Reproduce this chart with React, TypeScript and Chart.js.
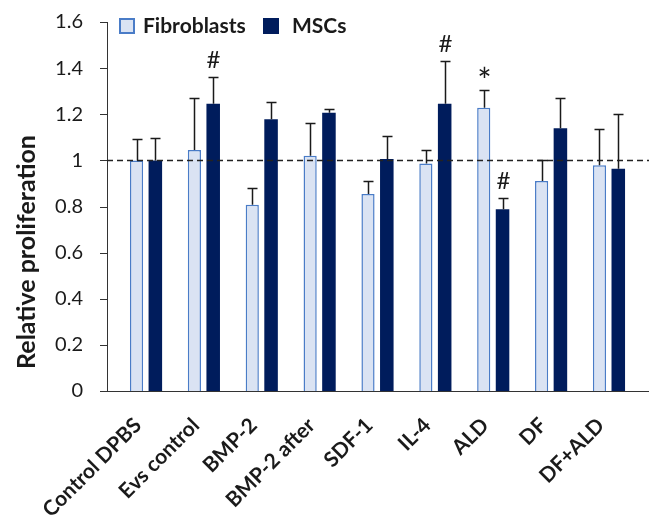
import { useEffect, useRef } from 'react';
import { Chart, registerables } from 'chart.js';

Chart.register(...registerables);

const categories = ['Control DPBS', 'Evs control', 'BMP-2', 'BMP-2 after', 'SDF-1', 'IL-4', 'ALD', 'DF', 'DF+ALD'];
const fibroblastValues = [1.0, 1.045, 0.808, 1.02, 0.854, 0.986, 1.228, 0.911, 0.979];
const fibroblastErrors = [0.091, 0.227, 0.071, 0.142, 0.058, 0.06, 0.077, 0.089, 0.156];
const mscValues = [1.0, 1.245, 1.178, 1.207, 1.006, 1.245, 0.788, 1.139, 0.964];
const mscErrors = [0.098, 0.115, 0.074, 0.017, 0.1, 0.186, 0.048, 0.133, 0.239];
const fibroblastMarks = ['', '', '', '', '', '', '*', '', ''];
const mscMarks = ['', '#', '', '', '', '#', '#', '', ''];
const seriesNames = ['Fibroblasts', 'MSCs'];
const yTickValues = [0, 0.2, 0.4, 0.6, 0.8, 1, 1.2, 1.4, 1.6];
const referenceLine = 1;
const yTitle = 'Relative proliferation';

const FIB_FILL = '#DAE3F3';
const FIB_BORDER = '#4A7CC7';
const MSC_FILL = '#001C5C';
const INK = '#1a1a1a';
const FONT = 'Lato, "Open Sans", sans-serif';

const errorsBySeries = [fibroblastErrors, mscErrors];
const marksBySeries = [fibroblastMarks, mscMarks];

const decorPlugin = {
  id: 'decor',
  afterDatasetsDraw(chart: any) {
    const { ctx, chartArea, scales } = chart;
    const y = scales.y;
    const axisX = chartArea.left - 10;
    ctx.save();
    // axes
    ctx.strokeStyle = '#333';
    ctx.lineWidth = 1;
    ctx.beginPath();
    ctx.moveTo(axisX + 0.5, y.getPixelForValue(1.6));
    ctx.lineTo(axisX + 0.5, y.getPixelForValue(0));
    ctx.stroke();
    yTickValues.forEach((v) => {
      const py = Math.round(y.getPixelForValue(v)) + 0.5;
      ctx.beginPath();
      ctx.moveTo(axisX - 7, py);
      ctx.lineTo(axisX + 0.5, py);
      ctx.stroke();
    });
    const py0 = Math.round(y.getPixelForValue(0)) + 0.5;
    ctx.beginPath();
    ctx.moveTo(axisX, py0);
    ctx.lineTo(chart.width, py0);
    ctx.stroke();
    // reference dashed line
    const pr = Math.round(y.getPixelForValue(referenceLine)) + 0.5;
    ctx.strokeStyle = '#222';
    ctx.lineWidth = 1.5;
    ctx.setLineDash([6, 4]);
    ctx.beginPath();
    ctx.moveTo(axisX, pr);
    ctx.lineTo(chart.width, pr);
    ctx.stroke();
    ctx.setLineDash([]);
    // error bars and marks
    chart.data.datasets.forEach((ds: any, di: number) => {
      const meta = chart.getDatasetMeta(di);
      meta.data.forEach((bar: any, i: number) => {
        const v = ds.data[i];
        const top = v + errorsBySeries[di][i];
        const x = Math.round(bar.x) + 0.5;
        const pv = y.getPixelForValue(v);
        const pt = Math.round(y.getPixelForValue(top)) + 0.5;
        ctx.strokeStyle = INK;
        ctx.lineWidth = 1.5;
        ctx.beginPath();
        ctx.moveTo(x, pv);
        ctx.lineTo(x, pt);
        ctx.moveTo(x - 5, pt);
        ctx.lineTo(x + 5, pt);
        ctx.stroke();
        const mark = marksBySeries[di][i];
        if (mark) {
          ctx.fillStyle = INK;
          ctx.textAlign = 'center';
          ctx.textBaseline = 'alphabetic';
          if (mark === '*') {
            ctx.font = `34px ${FONT}`;
            ctx.fillText(mark, x, pt + 2);
          } else {
            ctx.font = `24px ${FONT}`;
            ctx.fillText(mark, x, pt - 10);
          }
        }
      });
    });
    ctx.restore();
  },
  afterDraw(chart: any) {
    const { ctx } = chart;
    ctx.save();
    // legend
    ctx.lineWidth = 2;
    ctx.fillStyle = FIB_FILL;
    ctx.fillRect(120, 19, 14, 14);
    ctx.strokeStyle = FIB_BORDER;
    ctx.strokeRect(120, 19, 14, 14);
    ctx.fillStyle = MSC_FILL;
    ctx.fillRect(263, 18, 16, 16);
    ctx.fillStyle = INK;
    ctx.font = `bold 21px ${FONT}`;
    ctx.textAlign = 'left';
    ctx.textBaseline = 'middle';
    ctx.fillText(seriesNames[0], 143, 26);
    ctx.fillText(seriesNames[1], 292, 26);
    // y title
    ctx.translate(27, 252);
    ctx.rotate(-Math.PI / 2);
    ctx.textAlign = 'center';
    ctx.textBaseline = 'middle';
    ctx.font = `bold 25px ${FONT}`;
    ctx.fillText(yTitle, 0, 0);
    ctx.restore();
  },
};

export default function App() {
  const ref = useRef<HTMLCanvasElement>(null);
  useEffect(() => {
    if (!ref.current) return;
    const chart = new Chart(ref.current, {
      type: 'bar',
      data: {
        labels: categories,
        datasets: [
          {
            label: seriesNames[0],
            data: fibroblastValues,
            backgroundColor: FIB_FILL,
            borderColor: FIB_BORDER,
            borderWidth: 1.5,
            barPercentage: 0.7,
            categoryPercentage: 0.65,
          },
          {
            label: seriesNames[1],
            data: mscValues,
            backgroundColor: MSC_FILL,
            borderWidth: 0,
            barPercentage: 0.72,
            categoryPercentage: 0.65,
          },
        ],
      },
      options: {
        animation: false,
        responsive: false,
        layout: { padding: { top: 22, right: 5.5, left: 0, bottom: 0 } },
        plugins: { legend: { display: false }, tooltip: { enabled: false } },
        scales: {
          x: {
            grid: { display: false, drawTicks: false },
            border: { display: false },
            ticks: {
              color: INK,
              font: { family: FONT, size: 21, weight: 'bold' },
              maxRotation: 45,
              minRotation: 45,
              autoSkip: false,
              padding: 22,
              labelOffset: -8,
            },
            afterFit: (s: any) => {
              s.height = 125;
            },
          },
          y: {
            min: 0,
            max: 1.6,
            grid: { display: false, drawTicks: true, tickLength: 30 },
            border: { display: false },
            ticks: {
              stepSize: 0.2,
              color: INK,
              font: { family: FONT, size: 20 },
              padding: 4,
              callback: (v: any) => String(Number(Number(v).toFixed(1))),
            },
            afterFit: (s: any) => {
              s.width = 117;
            },
          },
        },
      },
      plugins: [decorPlugin],
    });
    return () => chart.destroy();
  }, []);
  return (
    <div style={{ position: 'absolute', left: 0, top: 0, width: 649, height: 516, background: '#fff' }}>
      <canvas ref={ref} width={649} height={516} style={{ display: 'block' }} />
    </div>
  );
}
